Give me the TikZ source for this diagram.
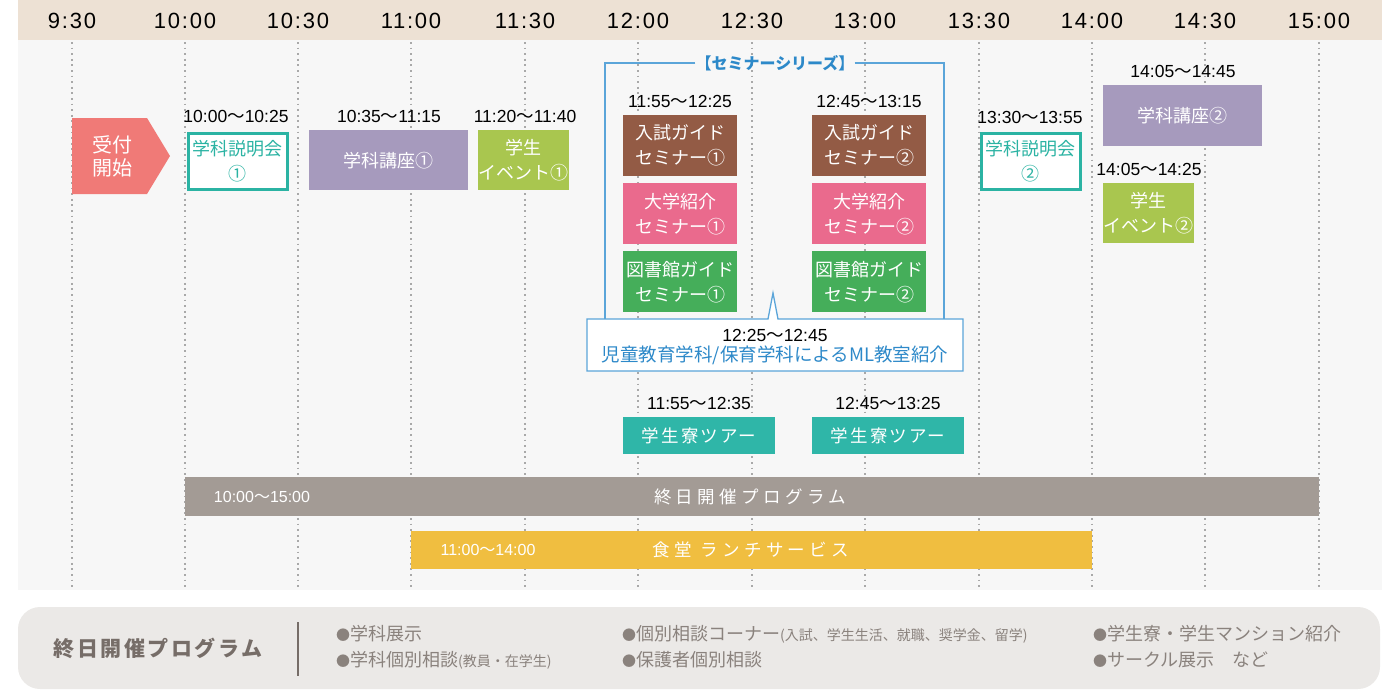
\documentclass[tikz,border=0pt]{standalone}
\usepackage{fontspec}
\setmainfont{Noto Sans CJK JP}
\newfontfamily\arial{Liberation Sans}
\newfontfamily\arialwide[LetterSpace=8]{Liberation Sans}
\newfontfamily\widejp[LetterSpace=25]{Noto Sans CJK JP}
\newfontfamily\midjp[LetterSpace=12]{Noto Sans CJK JP}

\definecolor{hdrbeige}{HTML}{EDE1D4}
\definecolor{bggray}{HTML}{F7F7F7}
\definecolor{dotgray}{HTML}{A9A9A9}
\definecolor{salmon}{HTML}{F07A77}
\definecolor{briefteal}{HTML}{2BB3A3}
\definecolor{lavender}{HTML}{A69ABD}
\definecolor{leaf}{HTML}{A9C64F}
\definecolor{guidebrown}{HTML}{935B45}
\definecolor{rose}{HTML}{EA6A8D}
\definecolor{libgreen}{HTML}{45AE5A}
\definecolor{semblue}{HTML}{5BA5D9}
\definecolor{semtext}{HTML}{2D89C9}
\definecolor{tourteal}{HTML}{2FB6A8}
\definecolor{allgray}{HTML}{A39B95}
\definecolor{lunchyellow}{HTML}{F0BE40}
\definecolor{panelgray}{HTML}{EBE9E7}
\definecolor{paneltitle}{HTML}{766D68}
\definecolor{paneltext}{HTML}{8A827D}

% time of day, digits in Arial
\newcommand{\tspan}[2]{{\arial #1}〜{\arial #2}}
% smaller bullet for the panel list
\newcommand{\pdot}{{\fontsize{14}{14}\selectfont ●}}

\tikzset{
  hdr/.style={font=\arialwide\fontsize{22}{24}\selectfont, inner sep=0},
  guide/.style={draw=dotgray, line width=1.8pt, dash pattern=on 1.8pt off 3.8pt},
  timelbl/.style={font=\fontsize{17.5}{18}\selectfont, inner sep=0},
  slot/.style={anchor=north west, inner sep=0, align=center, text=white,
    font=\fontsize{18}{25}\selectfont},
  briefing/.style={slot, draw=briefteal, line width=2.5pt, fill=white, text=briefteal},
  barlbl/.style={inner sep=0, text=white},
  item/.style={anchor=west, inner sep=0, text=paneltext, font=\fontsize{18}{20}\selectfont}
}

\begin{document}
\begin{tikzpicture}[x=1pt,y=-1pt]
        \useasboundingbox (0,0) rectangle (1382,697);

        % Backgrounds
        \fill[bggray] (18,40) rectangle (1382,590);
        \fill[hdrbeige] (18,0) rectangle (1382,40);

        % Time axis
        \node[hdr] (h0930) at (72,21) {9:30};   \node[hdr] (h1000) at (185,21) {10:00};
        \node[hdr] (h1030) at (298,21) {10:30}; \node[hdr] (h1100) at (411,21) {11:00};
        \node[hdr] (h1130) at (525,21) {11:30}; \node[hdr] (h1200) at (638,21) {12:00};
        \node[hdr] (h1230) at (752,21) {12:30}; \node[hdr] (h1300) at (865,21) {13:00};
        \node[hdr] (h1330) at (979,21) {13:30}; \node[hdr] (h1400) at (1092,21) {14:00};
        \node[hdr] (h1430) at (1205,21) {14:30}; \node[hdr] (h1500) at (1319,21) {15:00};

        % Dotted guides
        \draw[guide] (72,42) -- (72,590);     \draw[guide] (185,42) -- (185,590);
        \draw[guide] (298,42) -- (298,590);   \draw[guide] (411,42) -- (411,590);
        \draw[guide] (525,42) -- (525,590);   \draw[guide] (638,42) -- (638,590);
        \draw[guide] (752,42) -- (752,590);   \draw[guide] (865,42) -- (865,590);
        \draw[guide] (979,42) -- (979,590);   \draw[guide] (1092,42) -- (1092,590);
        \draw[guide] (1205,42) -- (1205,590); \draw[guide] (1319,42) -- (1319,590);

        % Reception arrow
        \fill[salmon] (72,118) -- (147,118) -- (170,156) -- (147,194) -- (72,194) -- cycle;
        \node[align=center, text=white, inner sep=0, font=\fontsize{20}{23.5}\selectfont] (recept) at (112,156.5) {受付\\開始};

        % Morning
        \node[timelbl] (t1) at (236,116) {\tspan{10:00}{10:25}};
        \node[briefing, minimum width=99, minimum height=56] (brief1) at (187,132) {学科説明会\\①};
        \node[timelbl] (t2) at (389,116) {\tspan{10:35}{11:15}};
        \node[slot, fill=lavender, minimum width=159, minimum height=60] (lecture1) at (309,130) {学科講座①};
        \node[timelbl] (t3) at (525,116) {\tspan{11:20}{11:40}};
        \node[slot, fill=leaf, minimum width=91, minimum height=60] (event1) at (478,130) {学生\\イベント①};

        % Seminar series bracket and callout
        \node[inner sep=0, text=semtext, font=\fontsize{16}{18}\selectfont\bfseries] (semtitle) at (775,63) {【セミナーシリーズ】};
        \draw[semblue, line width=1.3pt] (semtitle.west) -- (605,63) -- (605,319);
        \draw[semblue, line width=1.3pt] (semtitle.east) -- (944,63) -- (944,319);
        \draw[semblue, line width=1.3pt, fill=white] (587,319) -- (768,319) -- (773,293) -- (778,319) -- (963,319) -- (963,371) -- (587,371) -- cycle;
        \node[timelbl] (tml) at (775,335) {\tspan{12:25}{12:45}};
        \node[inner sep=0, text=semtext, font=\fontsize{18.5}{20}\selectfont] (ml) at (775,355) {児童教育学科/保育学科によるML教室紹介};

        \node[timelbl] (t4) at (680,101) {\tspan{11:55}{12:25}};
        \node[slot, fill=guidebrown, minimum width=114, minimum height=61] (exam1) at (623,115) {入試ガイド\\セミナー①};
        \node[slot, fill=rose, minimum width=114, minimum height=61] (univ1) at (623,183) {大学紹介\\セミナー①};
        \node[slot, fill=libgreen, minimum width=114, minimum height=61] (lib1) at (623,251) {図書館ガイド\\セミナー①};
        \node[timelbl] (t5) at (869,101) {\tspan{12:45}{13:15}};
        \node[slot, fill=guidebrown, minimum width=114, minimum height=61] (exam2) at (812,115) {入試ガイド\\セミナー②};
        \node[slot, fill=rose, minimum width=114, minimum height=61] (univ2) at (812,183) {大学紹介\\セミナー②};
        \node[slot, fill=libgreen, minimum width=114, minimum height=61] (lib2) at (812,251) {図書館ガイド\\セミナー②};

        % Dormitory tours
        \node[timelbl] (t6) at (699,403) {\tspan{11:55}{12:35}};
        \node[slot, fill=tourteal, minimum width=152, minimum height=37, font=\midjp\fontsize{17.5}{20}\selectfont] (tour1) at (623,417) {学生寮ツアー};
        \node[timelbl] (t7) at (888,403) {\tspan{12:45}{13:25}};
        \node[slot, fill=tourteal, minimum width=152, minimum height=37, font=\midjp\fontsize{17.5}{20}\selectfont] (tour2) at (812,417) {学生寮ツアー};

        % Afternoon
        \node[timelbl] (t8) at (1030,117) {\tspan{13:30}{13:55}};
        \node[briefing, minimum width=99, minimum height=56] (brief2) at (980,132) {学科説明会\\②};
        \node[timelbl] (t9) at (1183,71) {\tspan{14:05}{14:45}};
        \node[slot, fill=lavender, minimum width=159, minimum height=61] (lecture2) at (1103,85) {学科講座②};
        \node[timelbl] (t10) at (1149,169) {\tspan{14:05}{14:25}};
        \node[slot, fill=leaf, minimum width=91, minimum height=60] (event2) at (1103,183) {学生\\イベント②};

        % All-day bars
        \node[slot, fill=allgray, minimum width=1134, minimum height=39] (allday) at (185,477) {};
        \node[barlbl, font=\fontsize{16}{18}\selectfont] (alltime) at (262,497) {\tspan{10:00}{15:00}};
        \node[barlbl, font=\widejp\fontsize{17.5}{20}\selectfont] (alltitle) at (750,497) {終日開催プログラム};
        \node[slot, fill=lunchyellow, minimum width=681, minimum height=38] (lunch) at (411,531) {};
        \node[barlbl, font=\fontsize{16}{18}\selectfont] (lunchtime) at (488,550) {\tspan{11:00}{14:00}};
        \node[barlbl, font=\widejp\fontsize{17.5}{20}\selectfont] (lunchtitle) at (751,550) {食堂 ランチサービス};

        % Bottom panel
        \fill[panelgray, rounded corners=22pt] (18,607) rectangle (1380,689);
        \node[inner sep=0, text=paneltitle, font=\midjp\fontsize{21}{22}\selectfont\bfseries] (ptitle) at (158,648) {終日開催プログラム};
        \draw[paneltitle, line width=1.2pt] (298,622) -- (298,676);
        \node[item] (p1) at (336,634) {\pdot 学科展示};
        \node[item] (p2) at (336,660) {\pdot 学科個別相談{\fontsize{14}{14}\selectfont (教員・在学生)}};
        \node[item] (p3) at (622,634) {\pdot 個別相談コーナー{\fontsize{14}{14}\selectfont (入試、学生生活、就職、奨学金、留学)}};
        \node[item] (p4) at (622,660) {\pdot 保護者個別相談};
        \node[item] (p5) at (1093,634) {\pdot 学生寮・学生マンション紹介};
        \node[item] (p6) at (1093,660) {\pdot サークル展示　など};

    \end{tikzpicture}
\end{document}
